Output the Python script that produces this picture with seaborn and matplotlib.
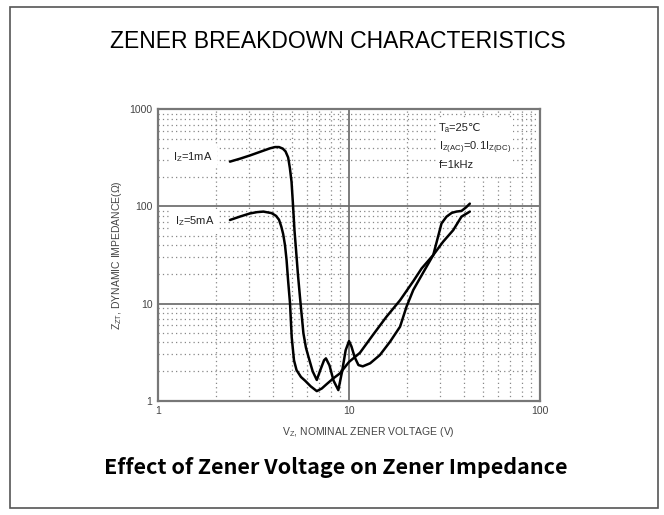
import numpy as np
import pandas as pd
import seaborn as sns
import matplotlib.pyplot as plt
from matplotlib.patches import Rectangle

# values (log-log)
vz_1ma = [2.38, 2.7, 3.03, 3.45, 3.86, 4.1, 4.3, 4.5, 4.65, 4.8, 4.9, 5.0, 5.08, 5.18, 5.28,
          5.4, 5.55, 5.77, 5.95, 6.13, 6.45, 6.78, 7.1, 7.4, 7.57, 7.9, 8.3, 8.79, 9.2, 9.6,
          10.0, 10.3, 10.7, 11.2, 11.8, 12.9, 14.5, 16.4, 18.5, 20.0, 21.7, 24.5, 27.6, 30.5,
          32.4, 34.5, 36.5, 38.8, 41.0, 42.9]
zz_1ma = [290, 312, 336, 368, 398, 410, 410, 395, 370, 320, 250, 180, 110, 57, 35.5,
          20, 11, 4.93, 3.5, 2.83, 2.0, 1.63, 2.1, 2.6, 2.72, 2.3, 1.6, 1.28, 2.0, 3.3,
          4.1, 3.6, 2.8, 2.32, 2.25, 2.42, 2.94, 4.04, 5.77, 9.28, 13.8, 21.0, 31.6, 67,
          78.6, 86, 88.6, 90, 98, 107]
vz_5ma = [2.38, 2.7, 3.03, 3.3, 3.56, 3.93, 4.15, 4.3, 4.42, 4.52, 4.62, 4.71, 4.8, 4.91,
          5.01, 5.15, 5.31, 5.6, 5.89, 6.3, 6.78, 7.2, 7.65, 8.3, 8.95, 10.0, 11.4, 13.4,
          15.7, 18.5, 21.7, 24.0, 27.6, 31.1, 35.1, 38.8, 42.9]
zz_5ma = [72.6, 79, 84.8, 87.5, 88.6, 85.5, 80, 73, 62, 52, 40, 28, 17, 10,
          4.5, 2.6, 2.06, 1.75, 1.6, 1.4, 1.25, 1.33, 1.48, 1.7, 1.9, 2.5, 3.1, 4.8,
          7.3, 10.8, 17, 23, 31.6, 43.4, 57, 78.6, 88.6]

curves = pd.concat([
    pd.DataFrame({"vz": vz_1ma, "zz": zz_1ma, "iz": "1mA"}),
    pd.DataFrame({"vz": vz_5ma, "zz": zz_5ma, "iz": "5mA"}),
])

sns.set_theme(style="white")
plt.rcParams['font.family'] = ['Liberation Sans', 'DejaVu Sans']
plt.rcParams['mathtext.fontset'] = 'custom'
plt.rcParams['mathtext.rm'] = 'Liberation Sans'

fig = plt.figure(figsize=(6.64, 5.15), dpi=100)
fig.patches.append(Rectangle((10 / 664, 7 / 515), 648 / 664, 501 / 515, transform=fig.transFigure,
                             fill=False, edgecolor="#555555", linewidth=1.2))
ax = fig.add_axes([0.238, 0.2223, 0.5753, 0.5651])

sns.lineplot(data=curves, x="vz", y="zz", units="iz", estimator=None, sort=False,
             color="black", linewidth=1.8, ax=ax, legend=False)

ax.set_xscale("log")
ax.set_yscale("log")
ax.set_xlim(1, 100)
ax.set_ylim(1, 1000)
ax.set_xticks([1, 10, 100])
ax.set_xticklabels(["1", "10", "100"])
ax.set_yticks([1, 10, 100, 1000])
ax.set_yticklabels(["1", "10", "100", "1000"])
ax.minorticks_on()
ax.grid(True, which="major", color="#666666", linewidth=1.2, linestyle="-")
ax.grid(True, which="minor", color="#888888", linewidth=0.9, linestyle=(0, (1, 2.5)))
ax.tick_params(which="both", length=0, labelsize=7.5, labelcolor="#444444", pad=4)
for s in ax.spines.values():
    s.set_color("#777777")
    s.set_linewidth(1.6)

ax.set_xlabel(r"V$_\mathregular{Z}$, NOMINAL ZENER VOLTAGE (V)", fontsize=7.5, color="#444444")
ax.set_ylabel(r"Z$_\mathregular{ZT}$, DYNAMIC IMPEDANCE(Ω)", fontsize=7.5, color="#444444")
ax.xaxis.set_label_coords(0.55, -0.085)
ax.yaxis.set_label_coords(-0.09, 0.5)

lab = dict(fontsize=8, color="#222222", ha="left", va="center",
           bbox=dict(facecolor="white", edgecolor="none", pad=3))
ax.text(1.2, 324, r"I$_\mathregular{Z}$=1mA", **lab)
ax.text(1.23, 71, r"I$_\mathregular{Z}$=5mA", **lab)

# condition box: white patch behind the three lines
ax.add_patch(Rectangle((0.73, 0.775), 0.2, 0.196, transform=ax.transAxes,
                       facecolor="white", edgecolor="none", zorder=1))
ax.text(29.5, 644, "Tₐ=25℃", fontsize=8, color="#222222", ha="left", va="center", zorder=3)
ax.text(29.5, 405, "I$_\\mathregular{Z(AC)}$=0.1I$_\\mathregular{Z(DC)}$", fontsize=8,
        color="#222222", ha="left", va="center", zorder=3)
ax.text(29.5, 267, "f=1kHz", fontsize=8, color="#222222", ha="left", va="center", zorder=3)

fig.text(338 / 664, 1 - 42 / 515, "ZENER BREAKDOWN CHARACTERISTICS", ha="center", va="center",
         fontsize=16.5, color="black")
fig.text(336 / 664, 1 - 467 / 515, "Effect of Zener Voltage on Zener Impedance", ha="center", va="center",
         fontsize=15.5, color="black", family=["Noto Sans CJK JP", "DejaVu Sans"], weight="bold")

fig.savefig("out.png", dpi=100)
